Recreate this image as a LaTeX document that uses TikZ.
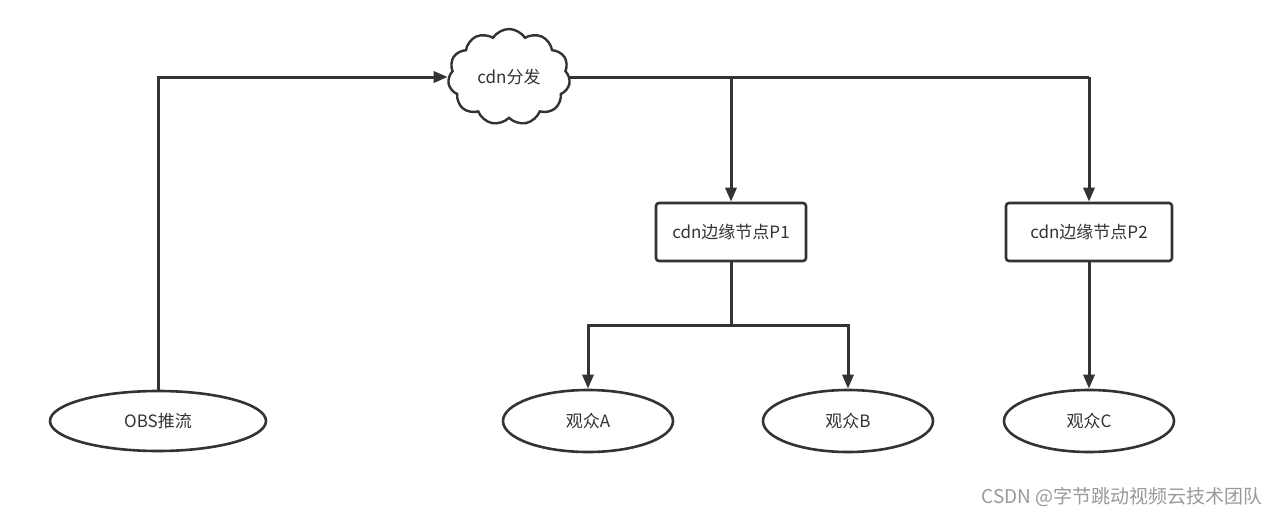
\documentclass[tikz,border=0pt]{standalone}
\usepackage{fontspec}
\newfontfamily\cjk{Noto Sans CJK SC}
\usetikzlibrary{shapes.symbols,shapes.geometric,arrows.meta}
\definecolor{ln}{HTML}{333333}
\begin{document}
\begin{tikzpicture}[x=1pt,y=-1pt,
  every node/.style={font=\cjk\fontsize{17}{20}\selectfont, text=ln},
  conn/.style={draw=ln, line width=3pt},
  arr/.style={conn, -{Triangle[length=14pt,width=11pt]}},
  boxn/.style={draw=ln, line width=2.6pt, rounded corners=3pt, fill=white, minimum width=150pt, minimum height=58pt, inner sep=0pt},
  ell/.style={ellipse, draw=ln, line width=2.6pt, fill=white, minimum width=170pt, minimum height=62pt, inner sep=0pt},
  cloudn/.style={cloud, cloud puffs=11, cloud puff arc=115, draw=ln, line width=2.4pt, fill=white, minimum width=122pt, minimum height=96pt, inner sep=0pt, aspect=1.2}
]
\useasboundingbox (0,0) rectangle (1280,517);
\fill[white] (0,0) rectangle (1280,517);
\node[cloudn] (cdn) at (509,77) {cdn分发};
\node[boxn] (p1) at (731,232) {cdn边缘节点P1};
\node[boxn, minimum width=166pt] (p2) at (1089,232) {cdn边缘节点P2};
\node[ell, minimum width=216pt, minimum height=60pt] (obs) at (158,421) {OBS推流};
\node[ell] (a) at (588,421) {观众A};
\node[ell] (b) at (848,421) {观众B};
\node[ell] (c) at (1089,421) {观众C};
\coordinate (s1) at (731,325);
\coordinate (j1) at (cdn.east -| p1.north);
\coordinate (j2) at (cdn.east -| p2.north);
\draw[arr] (obs.north) |- (cdn.west);
\draw[conn] (cdn.east) -- (j2);
\draw[arr] (j1) -- (p1.north);
\draw[arr] (j2) -- (p2.north);
\draw[conn] (p1.south) -- (s1);
\draw[arr] (s1) -| (a.north);
\draw[arr] (s1) -| (b.north);
\draw[arr] (p2.south) -- (c.north);
\node[anchor=east, text=black!40, font=\cjk\fontsize{19}{22}\selectfont] (wm) at (1266,497) {CSDN @字节跳动视频云技术团队};
\end{tikzpicture}
\end{document}
